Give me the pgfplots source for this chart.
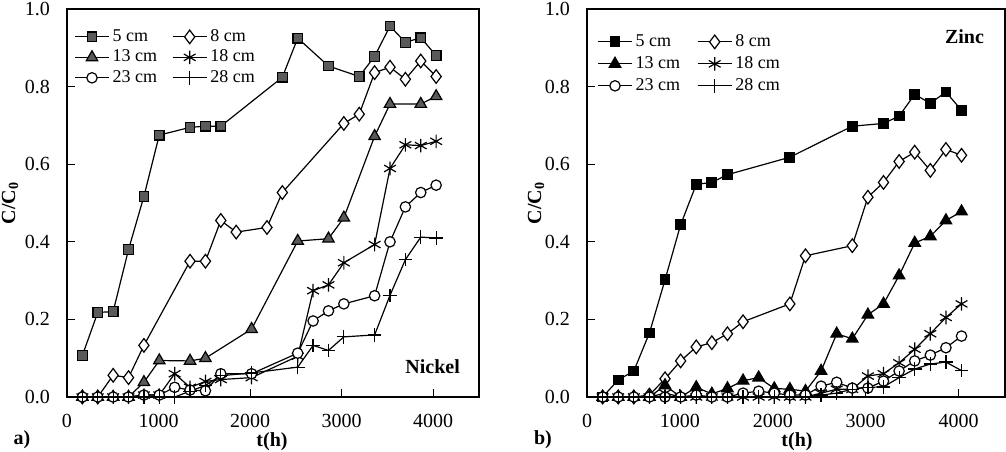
\documentclass[border=0pt]{standalone}
\usepackage{fontspec}
\setmainfont{Liberation Serif}
\usepackage{pgfplots}
\pgfplotsset{compat=1.18}
\definecolor{mgray}{RGB}{90,90,90}

\pgfplotsset{
  panel/.style={
    scale only axis, width=206pt, height=194pt,
    xmin=0, xmax=4500, ymin=0, ymax=1,
    xtick={0,1000,2000,3000,4000},
    ytick={0,0.2,0.4,0.6,0.8,1.0},
    xtick pos=left, ytick pos=left,
    tick align=inside, major tick length=4pt,
    tick style={black, line width=0.6pt},
    axis line style={line width=0.7pt},
    /pgf/number format/assume math mode=true,
    /pgf/number format/1000 sep={},
    yticklabel style={/pgf/number format/fixed, /pgf/number format/fixed zerofill,
      /pgf/number format/precision=1, xshift=-5pt},
    ticklabel style={font=\fontsize{10}{12}\selectfont},
    xticklabel style={yshift=-5pt},
    legend columns=2,
    legend style={draw=none, fill=none, at={(0,1)}, anchor=north west,
      inner xsep=0pt, inner ysep=0pt,
      font=\fontsize{9}{10}\selectfont,
      nodes={inner xsep=1.5pt, inner ysep=1pt}},
    legend cell align=left,
    legend image code/.code={
      \draw[mark repeat=2, mark phase=2] plot coordinates {(0pt,0pt) (8.5pt,0pt) (17pt,0pt)};},
    every axis plot/.append style={black, line width=0.6pt, sharp plot},
  },
  s5/.style={mark=square*, mark size=2.4pt, mark options={fill=#1, draw=black, solid}},
  s8/.style={mark=diamond*, mark size=3.4pt, mark options={fill=white, draw=black, solid}},
  s13/.style={mark=triangle*, mark size=3.3pt, mark options={fill=#1, draw=black, solid}},
  s18/.style={mark=asterisk, mark size=3.4pt, mark options={solid}},
  s23/.style={mark=*, mark size=2.6pt, mark options={fill=white, draw=black, solid}},
  s28/.style={mark=+, mark size=3.4pt, mark options={solid}},
}

\begin{document}
\begin{tikzpicture}
\path[use as bounding box] (-33.5pt,-27pt) rectangle (469.5pt,198.5pt);

% a) Nickel
\begin{axis}[panel, at={(0pt,0pt)}, anchor=south west,
  legend style={xshift=3.5pt, yshift=-9pt, row sep=0.75pt,
    /tikz/every even column/.append style={column sep=6pt}}]
\addplot[s5=mgray] coordinates {
 (168,0.107) (336,0.218) (504,0.22) (672,0.38) (840,0.517) (1008,0.675)
 (1344,0.695) (1512,0.698) (1680,0.698) (2352,0.824) (2520,0.925) (2856,0.853)
 (3192,0.826) (3360,0.878) (3528,0.956) (3696,0.914) (3864,0.926) (4032,0.88)};
\addlegendentry{5 cm}
\addplot[s8] coordinates {
 (168,0) (336,0) (504,0.056) (672,0.05) (840,0.133) (1344,0.35) (1512,0.35)
 (1680,0.455) (1848,0.425) (2184,0.437) (2352,0.527) (3024,0.705) (3192,0.729)
 (3360,0.836) (3528,0.85) (3696,0.819) (3864,0.866) (4032,0.826)};
\addlegendentry{8 cm}
\addplot[s13=mgray] coordinates {
 (168,0) (336,0) (504,0) (672,0) (840,0.038) (1008,0.094) (1344,0.093)
 (1512,0.1) (2016,0.175) (2520,0.402) (2856,0.408) (3024,0.462) (3360,0.672)
 (3528,0.755) (3864,0.755) (4032,0.775)};
\addlegendentry{13 cm}
\addplot[s18] coordinates {
 (168,0) (336,0) (504,0) (672,0) (840,0.005) (1008,0.005) (1176,0.06)
 (1344,0.025) (1512,0.04) (1680,0.045) (2016,0.05) (2520,0.105) (2688,0.274)
 (2856,0.289) (3024,0.346) (3360,0.393) (3528,0.589) (3696,0.65) (3864,0.648)
 (4032,0.659)};
\addlegendentry{18 cm}
\addplot[s23] coordinates {
 (168,0) (336,0) (504,0) (672,0) (840,0.005) (1008,0.005) (1176,0.025)
 (1344,0.018) (1512,0.016) (1680,0.06) (2016,0.06) (2520,0.113) (2688,0.196)
 (2856,0.222) (3024,0.24) (3360,0.261) (3528,0.40) (3696,0.49) (3864,0.527)
 (4032,0.546)};
\addlegendentry{23 cm}
\addplot[s28] coordinates {
 (168,0) (336,0) (504,0) (672,0) (840,0) (1008,0) (1176,0) (1344,0.015)
 (1512,0.03) (1680,0.055) (2016,0.062) (2520,0.077) (2688,0.133) (2856,0.12)
 (3024,0.155) (3360,0.16) (3528,0.262) (3696,0.354) (3864,0.412) (4032,0.41)};
\addlegendentry{28 cm}
\node[anchor=east, font=\bfseries\fontsize{10}{12}\selectfont]
  at (rel axis cs:1,0) [xshift=-6pt, yshift=15pt] {Nickel};
\end{axis}

% b) Zinc
\begin{axis}[panel, width=209pt, at={(260pt,0pt)}, anchor=south west,
  legend style={xshift=5pt, yshift=-11.5pt, row sep=1.5pt,
    /tikz/every even column/.append style={column sep=7pt}}]
\addplot[s5=black] coordinates {
 (168,0) (336,0.044) (504,0.067) (672,0.165) (840,0.302) (1008,0.444)
 (1176,0.548) (1344,0.553) (1512,0.573) (2184,0.618) (2856,0.698) (3192,0.705)
 (3360,0.724) (3528,0.78) (3696,0.757) (3864,0.786) (4032,0.739)};
\addlegendentry{5 cm}
\addplot[s8] coordinates {
 (168,0) (336,0) (504,0) (672,0.005) (840,0.047) (1008,0.093) (1176,0.129)
 (1344,0.14) (1512,0.163) (1680,0.194) (2184,0.24) (2352,0.364) (2856,0.39)
 (3024,0.515) (3192,0.553) (3360,0.607) (3528,0.631) (3696,0.584) (3864,0.638)
 (4032,0.623)};
\addlegendentry{8 cm}
\addplot[s13=black] coordinates {
 (168,0) (336,0) (504,0) (672,0) (840,0.03) (1008,0) (1176,0.025) (1344,0.008)
 (1512,0.022) (1680,0.042) (1848,0.05) (2016,0.022) (2184,0.02) (2352,0.015)
 (2520,0.067) (2688,0.163) (2856,0.15) (3024,0.212) (3192,0.24) (3360,0.313)
 (3528,0.397) (3696,0.414) (3864,0.455) (4032,0.478)};
\addlegendentry{13 cm}
\addplot[s18] coordinates {
 (168,0) (336,0) (504,0) (672,0) (840,0.01) (1008,0) (1176,0) (1344,0)
 (1512,0) (1680,0) (1848,0) (2016,0) (2184,0) (2352,0) (2520,0.01) (2688,0.02)
 (2856,0.02) (3024,0.054) (3192,0.06) (3360,0.088) (3528,0.123) (3696,0.163)
 (3864,0.205) (4032,0.24)};
\addlegendentry{18 cm}
\addplot[s23] coordinates {
 (168,0) (336,0) (504,0) (672,0) (840,0) (1008,0) (1176,0.005) (1344,0)
 (1512,0) (1680,0.01) (1848,0.015) (2016,0.01) (2184,0.005) (2352,0.005)
 (2520,0.028) (2688,0.038) (2856,0.023) (3024,0.023) (3192,0.041) (3360,0.067)
 (3528,0.093) (3696,0.108) (3864,0.127) (4032,0.157)};
\addlegendentry{23 cm}
\addplot[s28] coordinates {
 (168,0) (336,0) (504,0) (672,0) (840,0) (1008,0) (1176,0) (1344,0) (1512,0)
 (1680,0) (1848,0) (2016,0) (2184,0) (2352,0) (2520,0.005) (2688,0.01)
 (2856,0.02) (3024,0.025) (3192,0.026) (3360,0.05) (3528,0.072) (3696,0.085)
 (3864,0.09) (4032,0.068)};
\addlegendentry{28 cm}
\node[anchor=east, font=\bfseries\fontsize{10}{12}\selectfont]
  at (rel axis cs:1,1) [xshift=-7pt, yshift=-14pt] {Zinc};
\end{axis}

% labels
\node[rotate=90, font=\bfseries\fontsize{10}{12}\selectfont] at (-28.5pt,97pt) {C/C\textsubscript{0}};
\node[rotate=90, font=\bfseries\fontsize{10}{12}\selectfont] at (234.5pt,97pt) {C/C\textsubscript{0}};
\node[font=\bfseries\fontsize{10}{12}\selectfont] at (102.5pt,-22.5pt) {t(h)};
\node[font=\bfseries\fontsize{10}{12}\selectfont] at (365pt,-22.5pt) {t(h)};
\node[font=\bfseries\fontsize{10}{12}\selectfont] at (-22.5pt,-21.5pt) {a)};
\node[font=\bfseries\fontsize{10}{12}\selectfont] at (238pt,-21.5pt) {b)};
\end{tikzpicture}
\end{document}
